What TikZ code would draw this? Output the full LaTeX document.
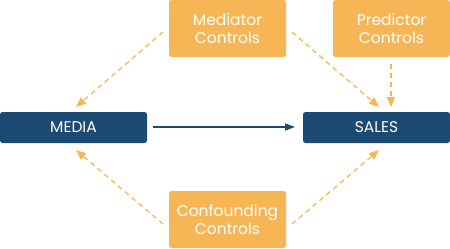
\documentclass[tikz,border=0pt]{standalone}
\usepackage{fontspec}
\setmainfont{Poppins}
\usetikzlibrary{arrows.meta}
\definecolor{orng}{HTML}{F7B655}
\definecolor{navy}{HTML}{1B4B73}
\begin{document}
\begin{tikzpicture}[x=1bp,y=-1bp,
  ctrl/.style={fill=orng,rounded corners=2.5bp,minimum width=117bp,minimum height=57bp,text=white,align=center,font=\fontsize{15.5bp}{18bp}\selectfont,inner sep=0pt},
  var/.style={fill=navy,rounded corners=2.5bp,minimum width=147bp,minimum height=31bp,text=white,font=\fontsize{15.5bp}{18bp}\selectfont,inner sep=0pt},
  darr/.style={draw=orng,line width=1.3bp,dash pattern=on 5bp off 4bp,-{Triangle[length=10bp,width=8bp]}},
  sarr/.style={draw=navy,line width=1.3bp,-{Triangle[length=10bp,width=7bp]}}]
\useasboundingbox (0,0) rectangle (450,248);
\node[ctrl] (med) at (227.5,28.5) {Mediator\\Controls};
\node[ctrl] (pred) at (391.5,28.5) {Predictor\\Controls};
\node[ctrl] (conf) at (227.5,219.5) {Confounding\\Controls};
\node[var] (media) at (73.5,127.5) {MEDIA};
\node[var] (sales) at (376.5,127.5) {SALES};
\coordinate (m1) at (163,32);
\coordinate (m1e) at (76,107);
\coordinate (m2) at (292,32);
\coordinate (m2e) at (379,107);
\coordinate (p1) at (391,64);
\coordinate (p1e) at (391,107);
\coordinate (c1) at (163,224);
\coordinate (c1e) at (76,150);
\coordinate (c2) at (292,224);
\coordinate (c2e) at (379,150);
\coordinate (s1) at (153,127);
\coordinate (s1e) at (295,127);
\draw[darr] (m1) -- (m1e);
\draw[darr] (m2) -- (m2e);
\draw[darr] (p1) -- (p1e);
\draw[darr] (c1) -- (c1e);
\draw[darr] (c2) -- (c2e);
\draw[sarr] (s1) -- (s1e);
\end{tikzpicture}
\end{document}
